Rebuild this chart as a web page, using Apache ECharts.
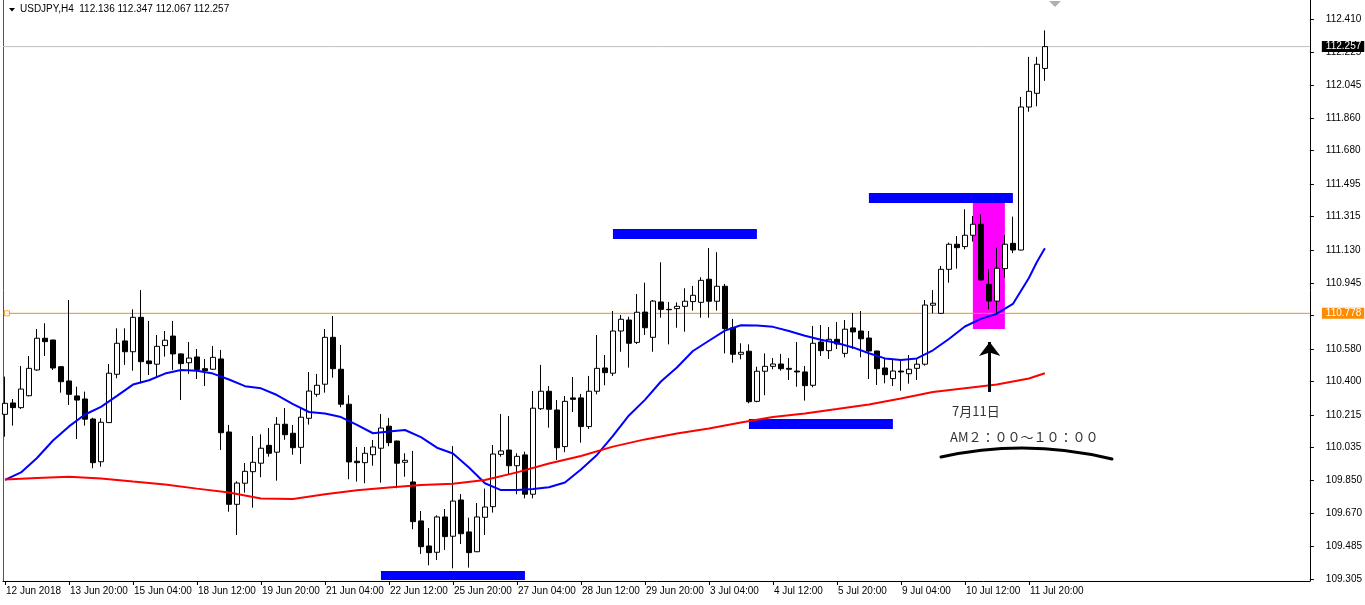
<!DOCTYPE html>
<html><head><meta charset="utf-8">
<script src="https://cdn.jsdelivr.net/npm/echarts@6/dist/echarts.min.js"></script>
<style>html,body{margin:0;padding:0;background:#fff}#c{width:1365px;height:605px}</style>
</head><body><div id="c"></div>
<script>
// ---- data (USDJPY H4) ----
const opens = [110.218,110.281,110.255,110.321,110.464,110.640,110.630,110.482,110.403,110.320,
110.303,110.192,109.955,110.172,110.440,110.625,110.565,110.756,110.514,110.496,
110.599,110.652,110.553,110.504,110.536,110.471,110.468,110.525,110.120,109.719,
109.836,109.900,109.947,110.046,110.008,110.163,110.113,110.035,110.196,110.329,
110.385,110.645,110.468,110.274,109.958,109.950,109.994,110.030,110.152,110.070,
109.952,109.843,109.627,109.488,109.453,109.649,109.542,109.743,109.566,109.456,
109.647,109.706,109.996,110.020,109.933,109.993,109.775,110.249,110.346,110.242,
110.039,110.309,110.309,110.150,110.346,110.475,110.446,110.680,110.741,110.617,
110.785,110.645,110.841,110.800,110.804,110.817,110.843,110.839,110.967,110.845,
110.928,110.698,110.551,110.568,110.290,110.457,110.484,110.497,110.473,110.458,
110.453,110.379,110.619,110.571,110.634,110.556,110.697,110.680,110.641,110.569,
110.475,110.416,110.458,110.443,110.473,110.496,110.823,110.778,111.022,111.161,
111.148,111.211,111.272,110.939,110.846,111.026,111.166,111.129,111.922,111.998,
112.136];
const highs = [110.427,110.303,110.486,110.541,110.691,110.723,110.632,110.486,110.852,110.371,
110.344,110.199,110.196,110.497,110.695,110.695,110.800,110.907,110.736,110.658,
110.680,110.736,110.556,110.619,110.580,110.525,110.597,110.575,110.159,109.847,
109.948,110.098,110.107,110.142,110.203,110.253,110.159,110.252,110.453,110.442,
110.691,110.763,110.603,110.324,110.037,110.037,110.076,110.220,110.198,110.072,
110.002,110.015,109.682,109.588,109.658,109.693,110.042,109.776,109.645,109.726,
109.806,110.048,110.220,110.209,110.002,110.011,110.347,110.492,110.375,110.297,
110.320,110.425,110.331,110.431,110.658,110.547,110.791,110.769,110.759,110.885,
110.948,110.852,111.061,110.841,110.839,110.917,110.930,110.978,111.140,111.117,
110.941,110.747,110.612,110.606,110.482,110.556,110.530,110.553,110.530,110.619,
110.486,110.708,110.713,110.702,110.730,110.741,110.780,110.791,110.680,110.571,
110.527,110.527,110.519,110.547,110.529,110.852,110.907,111.041,111.170,111.207,
111.355,111.318,111.327,111.022,111.142,111.212,111.314,111.978,112.200,112.200,
112.347];
const lows = [110.094,110.155,110.248,110.318,110.460,110.541,110.464,110.338,110.270,110.081,
110.155,109.919,109.928,110.170,110.418,110.492,110.460,110.390,110.436,110.423,
110.538,110.464,110.297,110.442,110.414,110.375,110.464,110.020,109.678,109.549,
109.784,109.700,109.869,109.983,109.850,110.077,109.994,109.943,110.161,110.316,
110.338,110.421,110.257,109.858,109.845,109.836,109.933,109.839,110.041,109.808,
109.872,109.581,109.444,109.381,109.410,109.466,109.364,109.499,109.368,109.454,
109.549,109.673,109.983,109.887,109.775,109.752,109.752,110.242,110.144,109.965,
110.008,110.231,110.061,110.137,110.329,110.379,110.431,110.565,110.477,110.608,
110.658,110.565,110.754,110.606,110.698,110.676,110.793,110.754,110.754,110.793,
110.556,110.504,110.523,110.279,110.285,110.324,110.468,110.460,110.408,110.371,
110.294,110.368,110.541,110.525,110.580,110.534,110.580,110.534,110.414,110.381,
110.390,110.375,110.349,110.388,110.408,110.488,110.778,110.776,110.948,111.026,
111.133,111.176,110.961,110.800,110.769,110.976,111.112,111.127,111.896,111.926,
112.067];
const closes = [110.279,110.255,110.358,110.473,110.640,110.621,110.475,110.399,110.329,110.297,
110.191,109.950,110.174,110.446,110.612,110.565,110.756,110.510,110.499,110.595,
110.629,110.553,110.499,110.530,110.466,110.460,110.534,110.116,109.719,109.837,
109.902,109.952,110.030,110.002,110.163,110.105,110.033,110.202,110.347,110.379,
110.645,110.471,110.274,109.954,109.950,110.002,110.037,110.142,110.061,109.947,
109.963,109.623,109.484,109.451,109.649,109.540,109.737,109.556,109.451,109.649,
109.704,109.998,110.015,109.933,109.985,109.775,110.252,110.346,110.246,110.033,
110.290,110.301,110.150,110.346,110.473,110.449,110.680,110.745,110.612,110.784,
110.698,110.846,110.800,110.798,110.817,110.845,110.878,110.961,110.845,110.928,
110.693,110.551,110.562,110.288,110.457,110.484,110.497,110.471,110.468,110.453,
110.377,110.612,110.571,110.634,110.608,110.690,110.675,110.637,110.569,110.471,
110.438,110.458,110.453,110.468,110.496,110.824,110.834,111.022,111.161,111.142,
111.211,111.272,110.963,110.846,111.028,111.161,111.129,111.922,112.009,112.159,
112.257];
// moving averages: [bar index, price]
const blueMA = [[0,109.854],[2,109.896],[4,109.976],[6,110.073],[8,110.151],[10,110.217],[12,110.259],[14,110.320],[16,110.383],[18,110.407],[20,110.444],[22,110.464],[24,110.460],[26,110.444],[28,110.411],[30,110.374],[32,110.362],[34,110.325],[36,110.275],[38,110.231],[40,110.223],[42,110.203],[44,110.159],[46,110.113],[48,110.123],[50,110.131],[52,110.092],[54,110.033],[56,110.001],[58,109.923],[60,109.836],[62,109.798],[64,109.798],[66,109.804],[68,109.814],[70,109.840],[72,109.912],[74,109.993],[76,110.098],[78,110.212],[80,110.298],[82,110.400],[84,110.478],[86,110.569],[88,110.626],[90,110.682],[92,110.712],[94,110.711],[96,110.703],[98,110.680],[100,110.654],[102,110.631],[104,110.613],[106,110.589],[108,110.557],[110,110.528],[112,110.519],[114,110.528],[116,110.573],[118,110.636],[120,110.705],[122,110.747],[124,110.776],[126,110.830],[127,110.902],[128,110.974],[129,111.063],[130,111.139]];
const redMA = [[0,109.856],[4,109.865],[8,109.872],[12,109.862],[16,109.845],[20,109.829],[24,109.806],[28,109.785],[32,109.751],[36,109.749],[40,109.775],[44,109.797],[48,109.812],[52,109.826],[56,109.833],[60,109.854],[64,109.896],[68,109.945],[72,109.987],[76,110.039],[80,110.079],[84,110.112],[88,110.140],[92,110.173],[96,110.203],[100,110.223],[104,110.247],[108,110.273],[112,110.306],[116,110.342],[120,110.363],[124,110.383],[128,110.417],[130,110.446]];
const xTickLabels = ['12 Jun 2018','13 Jun 20:00','15 Jun 04:00','18 Jun 12:00','19 Jun 20:00','21 Jun 04:00','22 Jun 12:00','25 Jun 20:00','27 Jun 04:00','28 Jun 12:00','29 Jun 20:00','3 Jul 04:00','4 Jul 12:00','5 Jul 20:00','9 Jul 04:00','10 Jul 12:00','11 Jul 20:00'];
const yTickValues = [112.410,112.225,112.045,111.860,111.680,111.495,111.315,111.130,110.945,110.765,110.580,110.400,110.215,110.035,109.850,109.670,109.485,109.305];
const lastPrice = 112.257;
const hLinePrice = 110.778;
// annotation boxes: [startBar, endBar, topPrice, bottomPrice]
const blueBoxes = [[47,65,109.349,109.299],[76,94,111.246,111.190],[93,111,110.192,110.137],[108,126,111.445,111.390]];
const pinkBox = [121,125,111.390,110.691];
const arrowLine = [[123.1,110.342],[123.1,110.619]];
const headerText = 'USDJPY,H4  112.136 112.347 112.067 112.257';

// ---- chart ----
const FONT = 'Liberation Sans';
const FS = 10;
const X_MIN = -0.25, X_MAX = 163.125;
const Y_MIN = 109.2938, Y_MAX = 112.5154;
const candleData = opens.map((o,i)=>[i,o,closes[i],lows[i],highs[i]]);
const xTickIdx = xTickLabels.map((_,k)=>k*8);
const areaData = blueBoxes.map(b=>[{coord:[b[0],b[2]],itemStyle:{color:'#0000ff'}},{coord:[b[1],b[3]]}]);
areaData.push([{coord:[pinkBox[0],pinkBox[2]],itemStyle:{color:'#ff00ff'}},{coord:[pinkBox[1],pinkBox[3]]}]);

function hLineSeries(price, lineColor, boxColor){
  return {type:'line',z:2,silent:true,symbol:'none',showSymbol:false,color:lineColor,
    data:[[X_MIN,price],[X_MAX,price]],
    lineStyle:{color:lineColor,width:1},
    endLabel:{show:true,formatter:price.toFixed(3),backgroundColor:boxColor,color:'#fff',
      fontSize:FS,fontFamily:FONT,padding:[1,3,0,4],distance:12}};
}

const chart = echarts.init(document.getElementById('c'), null, {renderer:'canvas'});
chart.setOption({
  animation:false,
  backgroundColor:'#ffffff',
  grid:{left:3,right:55,top:0,bottom:24},
  xAxis:{type:'value',min:X_MIN,max:X_MAX,
    axisLine:{show:true,onZero:false,lineStyle:{color:'#000',width:1}},
    axisTick:{show:true,customValues:xTickIdx,length:4,lineStyle:{color:'#000'}},
    axisLabel:{customValues:xTickIdx,formatter:v=>xTickLabels[Math.round(v/8)],align:'left',margin:5,
      color:'#000',fontSize:FS,fontFamily:FONT,padding:[0,0,0,1]},
    splitLine:{show:false},minorTick:{show:false},minorSplitLine:{show:false}},
  yAxis:{type:'value',position:'right',min:Y_MIN,max:Y_MAX,
    axisLine:{show:true,onZero:false,lineStyle:{color:'#000',width:1}},
    axisTick:{show:true,customValues:yTickValues,length:4,lineStyle:{color:'#000'}},
    axisLabel:{customValues:yTickValues,formatter:v=>v.toFixed(3),margin:16,color:'#000',fontSize:FS,fontFamily:FONT},
    splitLine:{show:false},minorTick:{show:false},minorSplitLine:{show:false}},
  series:[
    {type:'line',data:[],z:1,silent:true,
     markArea:{silent:true,data:areaData,label:{show:false}}},
    hLineSeries(lastPrice,'#c0c0c0','#000000'),
    hLineSeries(hLinePrice,'#ff8c00','#ff8c00'),
    {type:'candlestick',z:3,data:candleData,encode:{x:0,y:[1,2,3,4]},barWidth:5,
     itemStyle:{color:'#ffffff',color0:'#000000',borderColor:'#000000',borderColor0:'#000000',borderColorDoji:'#000000',borderWidth:1}},
    {type:'line',z:4,data:blueMA,showSymbol:false,symbol:'none',lineStyle:{color:'#0000ff',width:2},silent:true},
    {type:'line',z:4,data:redMA,showSymbol:false,symbol:'none',lineStyle:{color:'#ff0000',width:2},silent:true},
    {type:'scatter',z:5,data:[[0.25,hLinePrice]],symbol:'rect',symbolSize:5,itemStyle:{color:'#fff',borderColor:'#ff8c00',borderWidth:1},silent:true},
    {type:'line',z:6,data:[],silent:true,
     markLine:{silent:true,symbol:['none','arrow'],symbolSize:[16,14],animation:false,
       lineStyle:{color:'#000',width:3,type:'solid'},label:{show:false},
       data:[[{coord:arrowLine[0]},{coord:arrowLine[1]}]]}}
  ],
  graphic:[
    {type:'line',shape:{x1:3.5,y1:0,x2:3.5,y2:581},style:{stroke:'#555',lineWidth:1}},
    {type:'polygon',shape:{points:[[9,8],[15,8],[12,11.5]]},style:{fill:'#000'}},
    {type:'text',x:20,y:9,style:{text:headerText,font:'10px "Liberation Sans"',fill:'#000',verticalAlign:'middle'}},
    {type:'polygon',shape:{points:[[1049,1],[1061,1],[1055,7]]},style:{fill:'#b0b0b0'}},
    {type:'text',x:952,y:411,style:{text:'7月11日',font:'13px "Noto Sans CJK JP"',fill:'#333',verticalAlign:'middle'}},
    {type:'text',x:950,y:437,style:{text:'AM２：００～１０：００',font:'13px "Noto Sans CJK JP"',fill:'#333',verticalAlign:'middle'}},
    {type:'bezierCurve',shape:{x1:941,y1:457,x2:1112,y2:459,cpx1:1026,cpy1:438},style:{stroke:'#000',lineWidth:3,fill:null,lineCap:'round'}}
  ]
});
</script></body></html>
